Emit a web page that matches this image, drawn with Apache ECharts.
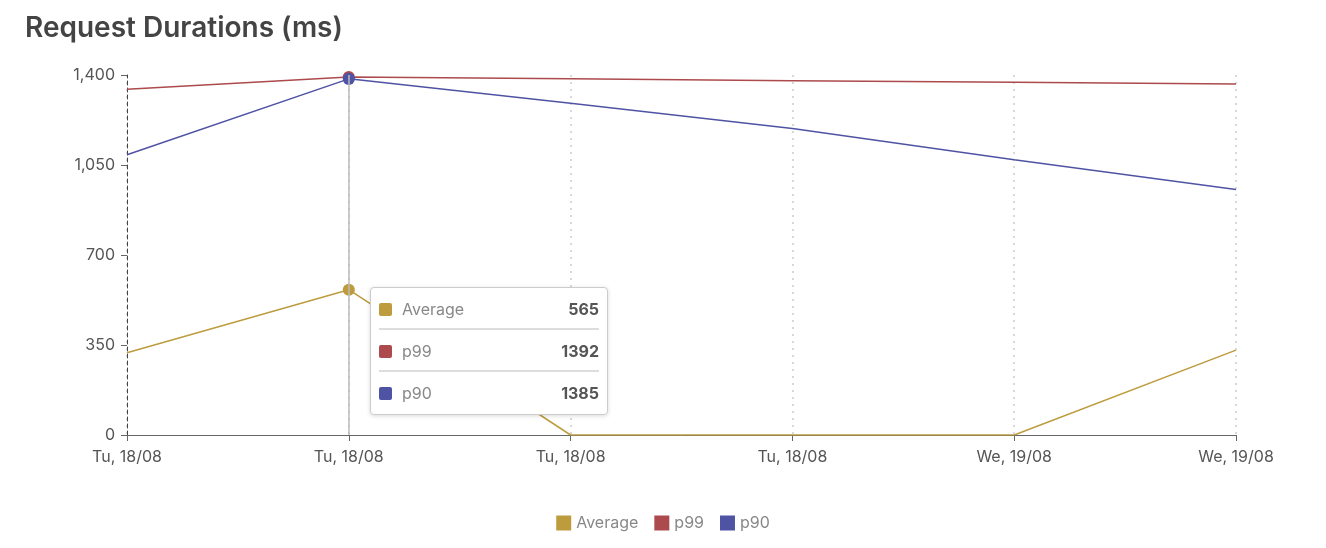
<!DOCTYPE html>
<html>
<head>
<meta charset="utf-8">
<script src="https://cdn.jsdelivr.net/npm/echarts@6/dist/echarts.min.js"></script>
<style>
html, body { margin: 0; padding: 0; background: #fff; }
#chart { width: 1326px; height: 548px; }
</style>
</head>
<body>
<div id="chart"></div>
<script>
// 数据
var categories = ['Tu, 18/08', 'Tu, 18/08', 'Tu, 18/08', 'Tu, 18/08', 'We, 19/08', 'We, 19/08'];
var averageData = [320, 565, 0, 0, 0, 330];
var p99Data = [1345, 1392, 1385, 1378, 1372, 1365];
var p90Data = [1090, 1385, 1290, 1192, 1070, 955];
var yTicks = [0, 350, 700, 1050, 1400];

var colors = ['#bd9c3e', '#ad4a4d', '#4f53a4'];
var names = ['Average', 'p99', 'p90'];

function makeSeries(name, data, color) {
    return {
        name: name,
        type: 'line',
        data: data,
        showSymbol: false,
        symbol: 'circle',
        symbolSize: 11,
        lineStyle: { width: 1.5, color: color },
        itemStyle: { color: color },
        emphasis: { disabled: true }
    };
}

var chart = echarts.init(document.getElementById('chart'));
chart.setOption({
    animation: false,
    color: colors,
    title: {
        text: 'Request Durations (ms)',
        left: 20, top: 10,
        textStyle: { fontFamily: 'Inter', fontSize: 28, fontWeight: 600, color: '#444' }
    },
    grid: { left: 127, right: 90, top: 75, bottom: 113 },
    tooltip: {
        trigger: 'axis',
        alwaysShowContent: true,
        position: [370, 287],
        backgroundColor: '#fff',
        borderColor: '#ccc',
        borderWidth: 1,
        padding: [6, 8],
        extraCssText: 'border-radius:4px;box-shadow:0 1px 4px rgba(0,0,0,0.15);',
        axisPointer: { type: 'line', lineStyle: { color: '#bbb', width: 1.5, type: 'solid' } },
        formatter: function (params) {
            var html = '';
            for (var i = 0; i < params.length; i++) {
                var p = params[i];
                html += '<div style="display:flex;align-items:center;width:220px;height:30px;font-family:Inter;font-size:16px;' +
                    (i < params.length - 1 ? 'border-bottom:2px solid #ddd;margin-bottom:6px;padding-bottom:4px;' : '') + '">' +
                    '<span style="display:inline-block;width:13px;height:13px;border-radius:2px;background:' + p.color + ';margin-right:10px"></span>' +
                    '<span style="color:#888;flex:1">' + p.seriesName + '</span>' +
                    '<span style="color:#555;font-weight:700">' + p.value + '</span></div>';
            }
            return html;
        }
    },
    legend: {
        bottom: 12, left: 'center',
        icon: 'rect', itemWidth: 15, itemHeight: 15, itemGap: 16,
        textStyle: { fontFamily: 'Inter', fontSize: 16, color: '#888' },
        data: names
    },
    xAxis: {
        type: 'category',
        boundaryGap: false,
        data: categories,
        axisLine: { lineStyle: { color: '#666' } },
        axisTick: { show: true, length: 6, lineStyle: { color: '#666' } },
        axisLabel: { color: '#555', fontFamily: 'Inter', fontSize: 16, margin: 14, interval: 0 },
        splitLine: { show: true, lineStyle: { color: '#ccc', type: [2, 5], width: 1.5 } }
    },
    yAxis: {
        type: 'value',
        min: 0, max: yTicks[yTicks.length - 1], interval: 350,
        axisLine: { show: true, lineStyle: { color: '#444', type: [4, 3] } },
        axisTick: { show: true, length: 6, lineStyle: { color: '#666' } },
        axisLabel: { color: '#555', fontFamily: 'Inter', fontSize: 16, margin: 12 },
        splitLine: { show: false }
    },
    series: [
        makeSeries(names[0], averageData, colors[0]),
        makeSeries(names[1], p99Data, colors[1]),
        makeSeries(names[2], p90Data, colors[2])
    ]
});
chart.dispatchAction({ type: 'showTip', seriesIndex: 0, dataIndex: 1 });
</script>
</body>
</html>
